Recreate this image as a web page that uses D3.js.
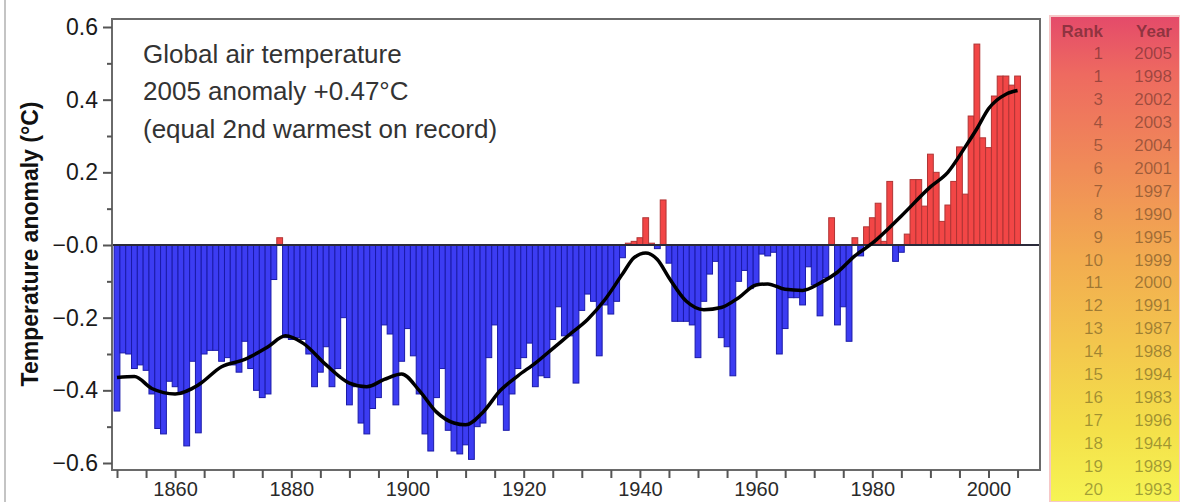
<!DOCTYPE html>
<html>
<head>
<meta charset="utf-8">
<script src="https://cdn.jsdelivr.net/npm/d3@7"></script>
<style>
  html, body { margin: 0; padding: 0; background: #fff; }
  svg { display: block; font-family: "Liberation Sans", Arial, sans-serif; }
</style>
</head>
<body>
<svg id="chart" width="1180" height="502"></svg>
<script>
// annual global anomalies (deg C), 1850..2005
var years = d3.range(1850, 2006);
var anomalies = [
  -0.457, -0.297, -0.30, -0.34, -0.33, -0.345, -0.41, -0.505, -0.52, -0.375,
  -0.39, -0.41, -0.553, -0.32, -0.517, -0.30, -0.29, -0.29, -0.32, -0.31,
  -0.33, -0.35, -0.265, -0.34, -0.40, -0.42, -0.41, -0.095, 0.02, -0.255,
  -0.26, -0.255, -0.26, -0.30, -0.39, -0.35, -0.28, -0.39, -0.34, -0.20,
  -0.44, -0.39, -0.49, -0.52, -0.45, -0.42, -0.22, -0.245, -0.44, -0.32,
  -0.23, -0.305, -0.41, -0.52, -0.567, -0.42, -0.34, -0.51, -0.567, -0.575,
  -0.55, -0.59, -0.50, -0.49, -0.31, -0.22, -0.44, -0.51, -0.41, -0.34,
  -0.31, -0.27, -0.39, -0.36, -0.365, -0.26, -0.17, -0.25, -0.25, -0.38,
  -0.18, -0.135, -0.155, -0.305, -0.165, -0.19, -0.155, -0.035, 0.005, 0.01,
  0.02, 0.075, 0.005, -0.01, 0.124, -0.05, -0.21, -0.21, -0.21, -0.22,
  -0.31, -0.155, -0.08, -0.045, -0.255, -0.28, -0.36, -0.10, -0.07, -0.12,
  -0.11, -0.025, -0.03, -0.02, -0.30, -0.23, -0.145, -0.145, -0.165, -0.06,
  -0.11, -0.195, -0.09, 0.075, -0.22, -0.17, -0.265, 0.02, -0.03, 0.05,
  0.075, 0.115, 0.01, 0.175, -0.045, -0.02, 0.03, 0.18, 0.18, 0.107,
  0.25, 0.20, 0.065, 0.11, 0.175, 0.27, 0.14, 0.355, 0.553, 0.295,
  0.268, 0.41, 0.465, 0.465, 0.44, 0.465
];

// smoothed curve
var smoothYears = [1850, 1853, 1856, 1860, 1864, 1868, 1872, 1876, 1879, 1882,
  1886, 1890, 1893, 1896, 1899, 1902, 1905, 1908, 1910, 1913, 1916, 1919, 1922,
  1925, 1928, 1931, 1934, 1937, 1939, 1941, 1943, 1945, 1948, 1951, 1954, 1957,
  1960, 1962, 1965, 1968, 1971, 1974, 1977, 1980, 1985, 1990, 1993, 1996, 1998,
  2000, 2003, 2005];
var smoothValues = [-0.365, -0.362, -0.395, -0.41, -0.385, -0.335, -0.315, -0.28,
  -0.25, -0.27, -0.33, -0.38, -0.39, -0.37, -0.355, -0.40, -0.46, -0.49, -0.495,
  -0.46, -0.40, -0.36, -0.325, -0.285, -0.245, -0.205, -0.15, -0.08, -0.035,
  -0.022, -0.04, -0.09, -0.155, -0.178, -0.172, -0.145, -0.11, -0.107, -0.122,
  -0.125, -0.105, -0.075, -0.03, 0.005, 0.08, 0.16, 0.20, 0.27, 0.32, 0.375,
  0.415, 0.425];

var xTickLabels = [1860, 1880, 1900, 1920, 1940, 1960, 1980, 2000];
var yTickLabels = ["\u22120.6", "\u22120.4", "\u22120.2", "\u22120.0", "0.2", "0.4", "0.6"];

var annotation = ["Global air temperature", "2005 anomaly +0.47\u00B0C", "(equal 2nd warmest on record)"];

var rankNumbers = [1, 1, 3, 4, 5, 6, 7, 8, 9, 10, 11, 12, 13, 14, 15, 16, 17, 18, 19, 20];
var rankYears = [2005, 1998, 2002, 2003, 2004, 2001, 1997, 1990, 1995, 1999,
  2000, 1991, 1987, 1988, 1994, 1983, 1996, 1944, 1989, 1993];

var svg = d3.select('#chart');
var frame = {left: 112, right: 1040, top: 19, bottom: 470};

var xScale = d3.scaleLinear().domain([1850, 2000]).range([117, 988.5]);
var yScale = d3.scaleLinear().domain([-0.6, 0.6]).range([463, 27]);
var barW = xScale(1851) - xScale(1850);

// page border on the far left
svg.append('line')
    .attr('x1', 5).attr('x2', 5).attr('y1', 0).attr('y2', 502)
    .attr('stroke', '#c4c4c4').attr('stroke-width', 2);

// bars
svg.append('g').selectAll('rect')
    .data(years)
    .enter().append('rect')
        .attr('x', function(d) { return xScale(d) - barW / 2; })
        .attr('width', barW)
        .attr('y', function(d, i) { return yScale(Math.max(0, anomalies[i])); })
        .attr('height', function(d, i) { return Math.abs(yScale(anomalies[i]) - yScale(0)); })
        .style('fill', function(d, i) { return anomalies[i] < 0 ? '#3c3cf2' : '#f24646'; })
        .style('stroke', function(d, i) { return anomalies[i] < 0 ? '#1a1aa8' : '#b03434'; })
        .style('stroke-width', 1);

// zero line
svg.append('line')
    .attr('x1', frame.left).attr('x2', frame.right)
    .attr('y1', yScale(0)).attr('y2', yScale(0))
    .attr('stroke', '#2a2a3a').attr('stroke-width', 2);

// smoothed line
var line = d3.line()
    .x(function(d, i) { return xScale(smoothYears[i]); })
    .y(function(d) { return yScale(d); })
    .curve(d3.curveMonotoneX);
svg.append('path')
    .datum(smoothValues)
    .attr('d', line)
    .attr('fill', 'none')
    .attr('stroke', '#000')
    .attr('stroke-width', 3.5);

// frame
svg.append('rect')
    .attr('x', frame.left).attr('y', frame.top)
    .attr('width', frame.right - frame.left).attr('height', frame.bottom - frame.top)
    .attr('fill', 'none').attr('stroke', '#6a6a6a').attr('stroke-width', 2);

// y axis
var yMajor = d3.axisLeft(yScale)
    .tickValues([-0.6, -0.4, -0.2, 0, 0.2, 0.4, 0.6])
    .tickSize(9).tickPadding(5)
    .tickFormat(function(d, i) { return yTickLabels[i]; });
var yMinor = d3.axisLeft(yScale)
    .tickValues([-0.5, -0.3, -0.1, 0.1, 0.3, 0.5])
    .tickSize(5).tickFormat('');
var gy = svg.append('g').attr('transform', 'translate(' + frame.left + ',0)').call(yMajor);
var gy2 = svg.append('g').attr('transform', 'translate(' + frame.left + ',0)').call(yMinor);
[gy, gy2].forEach(function(g) {
    g.select('.domain').remove();
    g.selectAll('line').attr('stroke', '#555').attr('stroke-width', 2);
});
gy.selectAll('text')
    .style('font-size', '23px')
    .style('fill', '#1a1a1a');

// x axis
var xAxis = d3.axisBottom(xScale)
    .tickValues(d3.range(1850, 2006, 5))
    .tickSize(8).tickPadding(4)
    .tickFormat(function(d) { return xTickLabels.indexOf(d) >= 0 ? d : ''; });
var gx = svg.append('g').attr('transform', 'translate(0,' + frame.bottom + ')').call(xAxis);
gx.select('.domain').remove();
gx.selectAll('line').attr('stroke', '#555').attr('stroke-width', 2);
gx.selectAll('text')
    .style('font-size', '20px')
    .style('fill', '#2a2a2a');

// y title
svg.append('text')
    .attr('transform', 'translate(38,' + 244 + ') rotate(-90)')
    .attr('text-anchor', 'middle')
    .style('font-size', '23px')
    .style('font-weight', 'bold')
    .style('fill', '#111')
    .text('Temperature anomaly (\u00B0C)');

// annotation
svg.append('g').selectAll('text')
    .data(annotation)
    .enter().append('text')
        .attr('x', 143)
        .attr('y', function(d, i) { return [63, 100, 138][i]; })
        .style('font-size', '26px')
        .style('fill', '#333')
        .text(function(d) { return d; });

// ranking panel
var defs = svg.append('defs');
var grad = defs.append('linearGradient').attr('id', 'rankGrad')
    .attr('x1', 0).attr('y1', 0).attr('x2', 0).attr('y2', 1);
[['0%', '#e44a6a'], ['12%', '#ee6a60'], ['50%', '#f2ac50'], ['85%', '#f4e04a'], ['100%', '#f6f454']]
    .forEach(function(s) { grad.append('stop').attr('offset', s[0]).attr('stop-color', s[1]); });

svg.append('rect')
    .attr('x', 1050).attr('y', 16)
    .attr('width', 130).attr('height', 486)
    .attr('fill', 'url(#rankGrad)')
    .attr('stroke', '#f6c8c8').attr('stroke-width', 2);

var rowY = d3.scaleLinear().domain([0, 19]).range([59, 495]);
svg.append('text').attr('x', 1103).attr('y', 37).attr('text-anchor', 'end')
    .style('font-size', '17px').style('font-weight', 'bold')
    .style('fill', '#000').style('fill-opacity', 0.4).text('Rank');
svg.append('text').attr('x', 1172).attr('y', 37).attr('text-anchor', 'end')
    .style('font-size', '17px').style('font-weight', 'bold')
    .style('fill', '#000').style('fill-opacity', 0.4).text('Year');

var rows = svg.append('g').selectAll('g')
    .data(rankNumbers)
    .enter().append('g');
rows.append('text')
    .attr('x', 1103)
    .attr('y', function(d, i) { return rowY(i); })
    .attr('text-anchor', 'end')
    .style('font-size', '17px')
    .style('fill', '#000').style('fill-opacity', 0.35)
    .text(function(d) { return d; });
rows.append('text')
    .attr('x', 1172)
    .attr('y', function(d, i) { return rowY(i); })
    .attr('text-anchor', 'end')
    .style('font-size', '17px')
    .style('fill', '#000').style('fill-opacity', 0.35)
    .text(function(d, i) { return rankYears[i]; });
</script>
</body>
</html>
